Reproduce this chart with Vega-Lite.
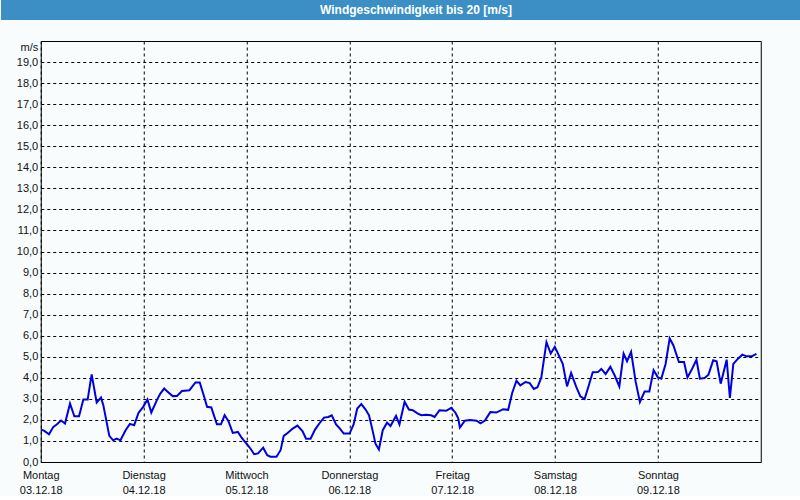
{
  "$schema": "https://vega.github.io/schema/vega-lite/v6.json",
  "padding": 0,
  "background": "#f8fcfc",
  "columns": 1,
  "align": {"row": "each", "column": "each"},
  "center": {"row": false, "column": true},
  "spacing": 20,
  "config": {
    "font": "Liberation Sans",
    "view": {"stroke": null}
  },
  "concat": [
    {
      "width": 800,
      "height": 20,
      "view": {"fill": "#3b8fc5", "stroke": null},
      "data": {"values": [{"title": "Windgeschwindigkeit bis 20 [m/s]"}]},
      "mark": {"type": "text", "color": "white", "font": "Liberation Sans", "fontSize": 12, "fontWeight": "bold", "baseline": "middle", "align": "center", "dx": 15},
      "encoding": {"text": {"field": "title"}}
    },
    {
      "width": 720,
      "height": 421,
      "view": {"stroke": "black", "strokeWidth": 1, "fill": "#f8fcfc"},
      "data": {"values": [
        {"h":0.0,"v":1.55},{"h":0.84,"v":1.48},{"h":1.93,"v":1.32},{"h":2.94,"v":1.67},{"h":3.72,"v":1.78},{"h":4.73,"v":1.97},{"h":5.66,"v":1.83},{"h":6.83,"v":2.78},{"h":7.84,"v":2.17},{"h":8.93,"v":2.17},{"h":9.94,"v":2.97},{"h":10.95,"v":2.97},{"h":11.88,"v":4.16},{"h":13.05,"v":2.83},{"h":14.06,"v":3.06},{"h":14.6,"v":2.7},{"h":16.0,"v":1.24},{"h":16.9,"v":1.03},{"h":17.7,"v":1.11},{"h":18.6,"v":1.03},{"h":19.8,"v":1.51},{"h":20.8,"v":1.81},{"h":21.8,"v":1.75},{"h":22.8,"v":2.33},{"h":23.9,"v":2.62},{"h":24.9,"v":2.97},{"h":25.8,"v":2.35},{"h":27.1,"v":2.94},{"h":27.9,"v":3.25},{"h":28.8,"v":3.49},{"h":29.8,"v":3.3},{"h":30.8,"v":3.13},{"h":31.8,"v":3.14},{"h":32.95,"v":3.37},{"h":34.7,"v":3.41},{"h":36.1,"v":3.78},{"h":37.1,"v":3.78},{"h":38.2,"v":3.05},{"h":38.8,"v":2.62},{"h":39.8,"v":2.59},{"h":41.1,"v":1.79},{"h":42.05,"v":1.79},{"h":42.9,"v":2.22},{"h":43.8,"v":1.94},{"h":44.8,"v":1.38},{"h":46.0,"v":1.43},{"h":46.9,"v":1.14},{"h":48.0,"v":0.87},{"h":48.96,"v":0.63},{"h":49.8,"v":0.37},{"h":50.7,"v":0.41},{"h":51.9,"v":0.68},{"h":52.85,"v":0.32},{"h":53.6,"v":0.25},{"h":55.0,"v":0.25},{"h":55.96,"v":0.56},{"h":56.7,"v":1.24},{"h":57.6,"v":1.38},{"h":58.8,"v":1.59},{"h":59.9,"v":1.73},{"h":61.1,"v":1.46},{"h":61.9,"v":1.11},{"h":62.96,"v":1.11},{"h":64.0,"v":1.54},{"h":65.0,"v":1.83},{"h":66.1,"v":2.11},{"h":67.1,"v":2.14},{"h":67.9,"v":2.22},{"h":68.9,"v":1.79},{"h":69.8,"v":1.59},{"h":70.7,"v":1.35},{"h":72.06,"v":1.35},{"h":73.0,"v":1.78},{"h":73.85,"v":2.54},{"h":74.8,"v":2.75},{"h":75.8,"v":2.49},{"h":76.6,"v":2.22},{"h":77.5,"v":1.43},{"h":78.1,"v":0.87},{"h":78.9,"v":0.59},{"h":79.8,"v":1.51},{"h":80.8,"v":1.87},{"h":81.6,"v":1.71},{"h":82.9,"v":2.19},{"h":83.7,"v":1.79},{"h":84.9,"v":2.86},{"h":85.9,"v":2.49},{"h":86.8,"v":2.46},{"h":88.0,"v":2.3},{"h":88.8,"v":2.22},{"h":89.9,"v":2.24},{"h":91.1,"v":2.22},{"h":91.9,"v":2.14},{"h":93.05,"v":2.46},{"h":94.6,"v":2.43},{"h":95.8,"v":2.57},{"h":96.8,"v":2.33},{"h":97.4,"v":2.08},{"h":97.8,"v":1.64},{"h":98.96,"v":1.96},{"h":100.1,"v":1.99},{"h":101.7,"v":1.96},{"h":102.6,"v":1.84},{"h":103.6,"v":1.96},{"h":104.9,"v":2.37},{"h":106.3,"v":2.35},{"h":107.9,"v":2.51},{"h":109.07,"v":2.48},{"h":110.0,"v":3.28},{"h":111.0,"v":3.86},{"h":111.9,"v":3.64},{"h":113.1,"v":3.8},{"h":114.1,"v":3.75},{"h":115.05,"v":3.47},{"h":115.9,"v":3.55},{"h":116.8,"v":4.02},{"h":118.0,"v":5.69},{"h":119.0,"v":5.15},{"h":119.95,"v":5.47},{"h":120.8,"v":5.1},{"h":121.8,"v":4.66},{"h":122.8,"v":3.59},{"h":123.75,"v":4.23},{"h":124.9,"v":3.59},{"h":125.9,"v":3.12},{"h":126.9,"v":2.99},{"h":127.8,"v":3.59},{"h":128.8,"v":4.26},{"h":130.0,"v":4.27},{"h":130.8,"v":4.42},{"h":131.8,"v":4.18},{"h":132.9,"v":4.52},{"h":133.9,"v":4.12},{"h":135.0,"v":3.59},{"h":136.0,"v":5.15},{"h":136.8,"v":4.79},{"h":137.75,"v":5.23},{"h":138.8,"v":3.83},{"h":139.8,"v":2.85},{"h":140.9,"v":3.35},{"h":142.0,"v":3.35},{"h":143.0,"v":4.36},{"h":144.0,"v":4.02},{"h":144.8,"v":3.96},{"h":145.8,"v":4.66},{"h":146.75,"v":5.87},{"h":147.6,"v":5.55},{"h":148.9,"v":4.75},{"h":150.1,"v":4.75},{"h":150.9,"v":4.02},{"h":151.9,"v":4.39},{"h":153.0,"v":4.86},{"h":153.8,"v":3.96},{"h":154.9,"v":3.99},{"h":155.8,"v":4.15},{"h":156.9,"v":4.83},{"h":157.7,"v":4.78},{"h":158.65,"v":3.72},{"h":160.05,"v":4.86},{"h":160.8,"v":3.04},{"h":161.6,"v":4.66},{"h":162.7,"v":4.91},{"h":163.7,"v":5.1},{"h":164.7,"v":5.02},{"h":165.9,"v":5.02},{"h":167.0,"v":5.14}
      ]},
      "mark": {"type": "line", "color": "#0000dd", "strokeWidth": 2, "clip": true},
      "encoding": {
        "x": {
          "field": "h", "type": "quantitative",
          "scale": {"domain": [0, 168], "nice": false, "zero": false},
          "axis": {
            "title": null,
            "values": [0, 24, 48, 72, 96, 120, 144],
            "labelExpr": "[['Montag','Dienstag','Mittwoch','Donnerstag','Freitag','Samstag','Sonntag'][round(datum.value/24)], ['03.12.18','04.12.18','05.12.18','06.12.18','07.12.18','08.12.18','09.12.18'][round(datum.value/24)]]",
            "ticks": false,
            "labelPadding": 7,
            "labelFont": "Liberation Sans",
            "labelFontSize": 11,
            "labelColor": "#111111",
            "labelLineHeight": 15,
            "labelFlush": false,
            "labelOverlap": false,
            "domain": true,
            "domainColor": "black",
            "grid": true,
            "gridColor": "black",
            "gridDash": [3, 3],
            "gridOpacity": 1,
            "gridWidth": 1
          }
        },
        "y": {
          "field": "v", "type": "quantitative",
          "scale": {"domain": [0, 20], "nice": false, "zero": true},
          "axis": {
            "values": [0,1,2,3,4,5,6,7,8,9,10,11,12,13,14,15,16,17,18,19],
            "labelExpr": "replace(format(datum.value, '.1f'), '.', ',')",
            "ticks": false,
            "labelPadding": 3,
            "labelFont": "Liberation Sans",
            "labelFontSize": 11,
            "labelColor": "#111111",
            "domain": false,
            "grid": true,
            "gridColor": "black",
            "gridDash": [3, 3],
            "gridOpacity": 1,
            "gridWidth": 1,
            "minExtent": 40,
            "title": "m/s",
            "titleAngle": 0,
            "titleX": -3,
            "titleY": 6,
            "titleAlign": "right",
            "titleBaseline": "middle",
            "titleFont": "Liberation Sans",
            "titleFontSize": 11,
            "titleFontWeight": "normal",
            "titleColor": "#111111"
          }
        }
      }
    }
  ]
}
